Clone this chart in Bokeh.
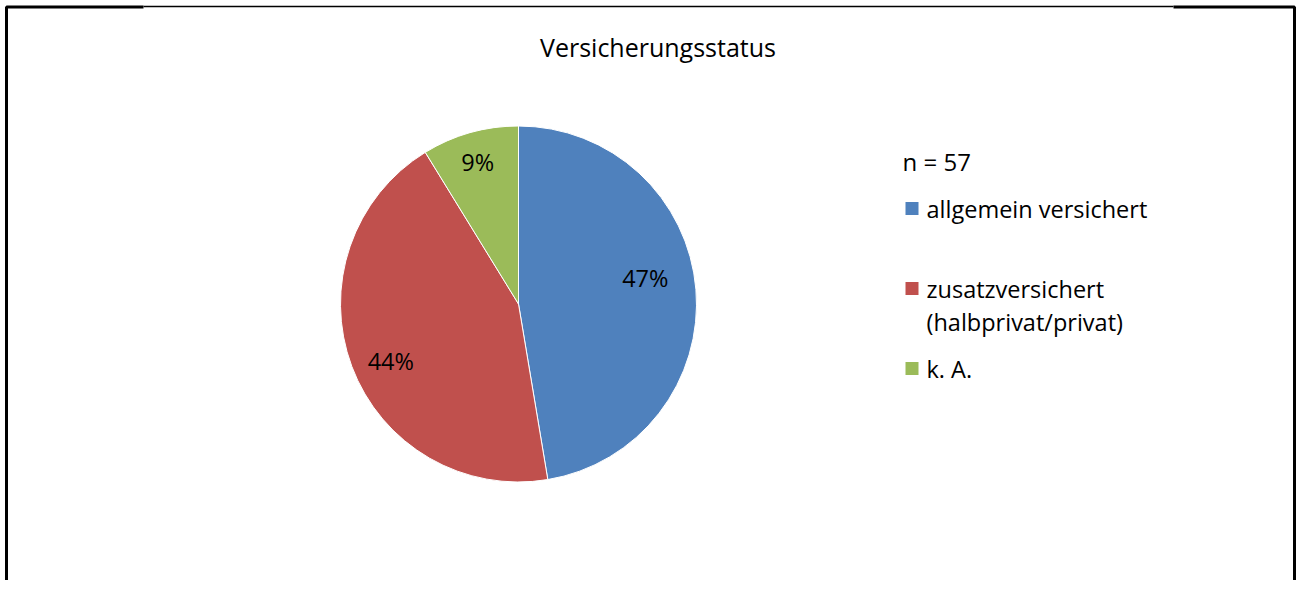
import math
from bokeh.plotting import figure
from bokeh.models import ColumnDataSource, Range1d
from bokeh.core.properties import value
from bokeh.embed import file_html
from bokeh.resources import INLINE

# ---- data ----
title_text = "Versicherungsstatus"
categories = ["allgemein versichert", "zusatzversichert\n(halbprivat/privat)", "k. A."]
counts = [27, 25, 5]
n_label = "n = 57"
colors = ["#4F81BD", "#C0504D", "#9BBB59"]

FONT = "Open Sans"
W, H = 1296, 580


def X(ref_x):
    return ref_x


def Y(ref_y):
    return H - ref_y


p = figure(width=W, height=H, x_range=Range1d(0, W), y_range=Range1d(0, H),
           output_backend="svg", toolbar_location=None, min_border=0)
p.axis.visible = False
p.grid.visible = False
p.outline_line_color = None
p.background_fill_color = "white"
p.border_fill_color = "white"

# ---- frame ----
p.line([X(6), X(6), X(143)], [0, Y(6.5), Y(6.5)], line_color="black", line_width=3)
p.line([X(143), X(1173)], [Y(6), Y(6)], line_color="black", line_width=1.5)
p.line([X(1173), W - 2, W - 2], [Y(6.5), Y(6.5), 0], line_color="black", line_width=3)

# ---- pie ----
cx, cy, R = X(518), Y(303.5), 178
total = sum(counts)
fracs = [c / total for c in counts]
starts, ends, mids = [], [], []
cum = 0.0
for f in fracs:
    a0 = math.pi / 2 - 2 * math.pi * cum
    a1 = math.pi / 2 - 2 * math.pi * (cum + f)
    starts.append(a1)
    ends.append(a0)
    mids.append((a0 + a1) / 2)
    cum += f

src = ColumnDataSource(dict(start=starts, end=ends, color=colors,
                            x=[cx] * len(counts), y=[cy] * len(counts)))
p.wedge(x="x", y="y", radius=R, start_angle="start", end_angle="end",
        direction="anticlock", fill_color="color", line_color="white",
        line_width=1, source=src)

# label placement: mid-angle of each slice, with small screen nudges
r_lab = 0.76 * R
nudge_x = [-8, -1, -4]
nudge_y = [-15, 10, -12]
lab_src = ColumnDataSource(dict(
    x=[cx + r_lab * math.cos(m) for m in mids],
    y=[cy + r_lab * math.sin(m) for m in mids],
    xo=nudge_x, yo=nudge_y,
    t=[f"{round(f * 100)}%" for f in fracs]))
p.text(x="x", y="y", text="t", source=lab_src, x_offset="xo", y_offset="yo",
       text_font=value(FONT), text_font_size="23.5px", text_align="center",
       text_baseline="middle", text_color="black")

# ---- title ----
p.text(x=[X(657.5)], y=[Y(46)], text=[title_text], text_font=value(FONT),
       text_font_size="25px", text_align="center", text_baseline="middle",
       text_color="black")

# ---- legend ----
p.text(x=[X(902)], y=[Y(161)], text=[n_label], text_font=value(FONT),
       text_font_size="24px", text_align="left", text_baseline="middle",
       text_color="black")

sq_x, sq_size = X(911.5), 13
item_y0, item_step, line_step = 208, 80, 33
lx, ly, lt = [], [], []
sx, sy = [], []
for i, cat in enumerate(categories):
    yy = item_y0 + item_step * i
    sx.append(sq_x)
    sy.append(Y(yy))
    for j, line in enumerate(cat.split("\n")):
        lx.append(X(926))
        ly.append(Y(yy + j * line_step))
        lt.append(line)

p.rect(x=sx, y=sy, width=sq_size, height=sq_size, fill_color=colors,
       line_color=None)
p.text(x=lx, y=ly, text=lt, text_font=value(FONT), text_font_size="23.5px",
       text_align="left", text_baseline="middle", text_color="black")

open("out.html", "w").write(file_html(p, INLINE))
